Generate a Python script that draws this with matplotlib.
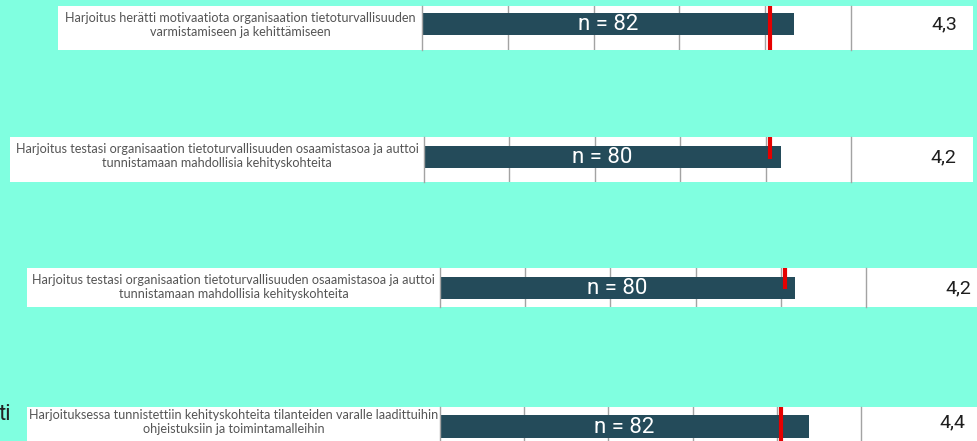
import matplotlib
matplotlib.use("Agg")
import matplotlib.pyplot as plt
from matplotlib.patches import Rectangle

W, H = 978, 441

# --- data ---
labels = [
    "Harjoitus herätti motivaatiota organisaation tietoturvallisuuden\nvarmistamiseen ja kehittämiseen",
    "Harjoitus testasi organisaation tietoturvallisuuden osaamistasoa ja auttoi\ntunnistamaan mahdollisia kehityskohteita",
    "Harjoitus testasi organisaation tietoturvallisuuden osaamistasoa ja auttoi\ntunnistamaan mahdollisia kehityskohteita",
    "Harjoituksessa tunnistettiin kehityskohteita tilanteiden varalle laadittuihin\nohjeistuksiin ja toimintamalleihin",
]
n_resp = [82, 80, 80, 82]
means = [4.34, 4.18, 4.17, 4.38]
ref_mean = [4.06, 4.05, 4.05, 4.05]
scale_ticks = [0, 1, 2, 3, 4, 5]

# --- layout in screen pixels ---
# (label left, chart left, chart right, right edge, top, bottom)
strips = [
    (58, 422, 851, 973, 6, 50),
    (10, 424, 851, 973, 137, 182),
    (27, 440, 866, 979, 268, 307),
    (27, 440, 861, 979, 407, 449),
]
bar_rows = [(13, 35), (146, 168), (277, 299), (415, 438)]
red_rows = [(6, 50), (137, 159), (268, 289), (407, 449)]
label_mid = [25, 156, 287, 422]
value_x = [957, 956, 971, 965]
value_mid = [24, 157, 288, 422]

BG = "#80ffe0"
BAR = "#244b5a"
GRID = "#a3a3a3"

fig = plt.figure(figsize=(W / 100, H / 100), dpi=100, facecolor=BG)


def fx(x):
    return x / W


def fy(y):
    return 1 - y / H


for i, (lx, cx0, cx1, rx, top, bot) in enumerate(strips):
    # label box and value box
    fig.add_artist(Rectangle((fx(lx), fy(bot)), fx(cx0 - lx), (bot - top) / H,
                             transform=fig.transFigure, facecolor="white",
                             edgecolor="none", zorder=0))
    fig.add_artist(Rectangle((fx(cx1), fy(bot)), fx(rx - cx1), (bot - top) / H,
                             transform=fig.transFigure, facecolor="white",
                             edgecolor="none", zorder=0))

    ax = fig.add_axes([fx(cx0), fy(bot), fx(cx1 - cx0), (bot - top) / H])
    ax.set_facecolor("white")
    ax.set_xlim(scale_ticks[0], scale_ticks[-1])
    ax.set_ylim(bot, top)
    ax.set_xticks(scale_ticks[1:-1])
    ax.set_yticks([])
    ax.tick_params(length=0, labelbottom=False)
    ax.grid(axis="x", color=GRID, linewidth=1)
    ax.set_axisbelow(True)
    for side in ("top", "bottom"):
        ax.spines[side].set_visible(False)
    for side in ("left", "right"):
        ax.spines[side].set_color(GRID)
        ax.spines[side].set_linewidth(1)

    b0, b1 = bar_rows[i]
    ax.barh((b0 + b1) / 2, means[i], height=b1 - b0, left=0, color=BAR, zorder=2)
    ax.text(means[i] / 2, (b0 + b1) / 2 + 0.5, f"n = {n_resp[i]}", color="white",
            ha="center", va="center", fontsize=16, family="Roboto", zorder=3)
    r0, r1 = red_rows[i]
    ax.vlines(ref_mean[i], r0, r1, color="#e60000", linewidth=3, zorder=4)

    fig.text(fx((lx + cx0) / 2), fy(label_mid[i]), labels[i], ha="center",
             va="center", fontsize=9.1, family="Lato", color="#555555",
             linespacing=1.2)
    fig.text(fx(value_x[i]), fy(value_mid[i]), f"{means[i]:.1f}".replace(".", ","),
             ha="right", va="center", fontsize=14, family="Roboto", color="#1e1e1e")

# cut-off word at the left edge
fig.text(fx(-1), fy(415), "ti", ha="left", va="center", fontsize=16,
         family="Roboto", color="#222222")

fig.savefig("out.png", dpi=100, facecolor=BG)
